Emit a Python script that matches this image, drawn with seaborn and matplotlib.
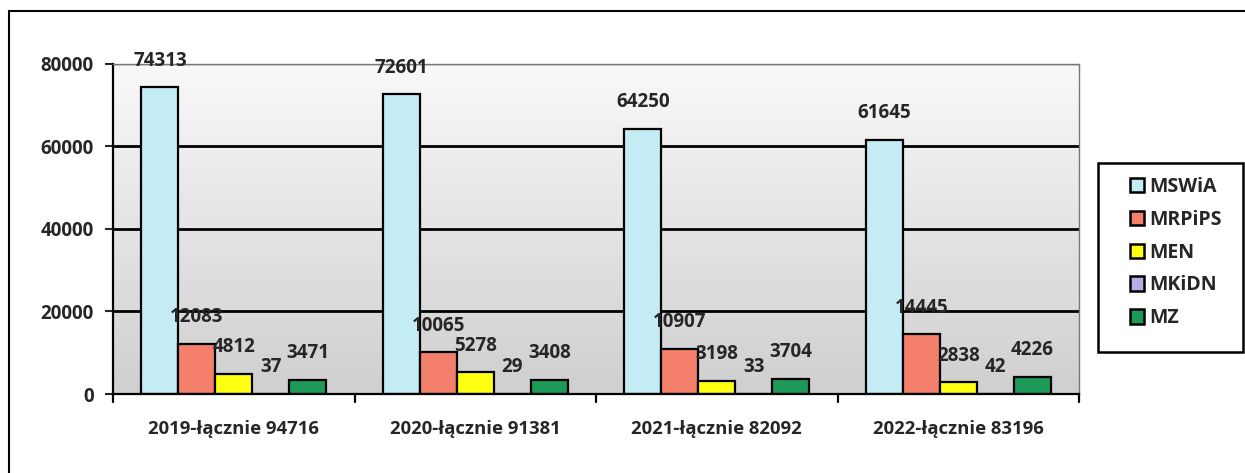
import numpy as np
import pandas as pd
import matplotlib
matplotlib.use("Agg")
import matplotlib.pyplot as plt
from matplotlib.lines import Line2D
from matplotlib.patches import Patch, Rectangle
import seaborn as sns

# dane z wykresu
lata = ['2019-łącznie 94716', '2020-łącznie 91381', '2021-łącznie 82092', '2022-łącznie 83196']
resorty = ['MSWiA', 'MRPiPS', 'MEN', 'MKiDN', 'MZ']
mswia = [74313, 72601, 64250, 61645]
mrpips = [12083, 10065, 10907, 14445]
men = [4812, 5278, 3198, 2838]
mkidn = [37, 29, 33, 42]
mz = [3471, 3408, 3704, 4226]
kolory = ['#c4ecf4', '#f4806c', '#ffff10', '#b4aee4', '#1e9a58']

wartosci = [mswia, mrpips, men, mkidn, mz]
rows = []
for r, vals in zip(resorty, wartosci):
    for rok, v in zip(lata, vals):
        rows.append({'Rok': rok, 'Resort': r, 'Liczba': v})
df = pd.DataFrame(rows)

sns.set_style('white')
plt.rcParams['font.family'] = ['Open Sans', 'DejaVu Sans']
plt.rcParams['font.weight'] = 'bold'

fig = plt.figure(figsize=(12.45, 4.73), dpi=100)
ax = fig.add_axes([0.0908, 0.167, 0.776, 0.698])

# tlo z gradientem
grad = np.linspace(0, 1, 256).reshape(-1, 1)
ax.imshow(grad, aspect='auto', cmap=matplotlib.colors.LinearSegmentedColormap.from_list('g', ['#f9f9f9', '#cfcfcf']),
          extent=[0, 1, 0, 1], transform=ax.transAxes, zorder=0)

sns.barplot(data=df, x='Rok', y='Liczba', hue='Resort', hue_order=resorty, order=lata,
            palette=kolory, width=0.765, gap=0, saturation=1, edgecolor='black', linewidth=1.6,
            ax=ax, legend=False, zorder=3)

for y in [20000, 40000, 60000]:
    ax.axhline(y, color='black', lw=2, zorder=1)
ax.axhline(80000, color='#555555', lw=1, zorder=1)

for cont in ax.containers:
    ax.bar_label(cont, padding=12, fontsize=13.5, fontweight='bold', zorder=5)

ax.set_xlim(-0.5, 3.5)
ax.set_ylim(0, 80000)
ax.set_yticks([0, 20000, 40000, 60000, 80000])
ax.set_yticklabels(['0', '20000', '40000', '60000', '80000'], fontsize=13.5, fontweight='bold')
ax.set_xticks(range(4))
ax.set_xticklabels(lata, fontsize=13.3, fontweight='bold')
ax.tick_params(axis='x', length=0, pad=19)
ax.tick_params(axis='y', length=6, width=1.5, direction='out', left=True, pad=8)
for xb in [-0.5, 0.5, 1.5, 2.5, 3.5]:
    ax.plot([xb, xb], [0, -0.025], transform=ax.get_xaxis_transform(), color='black', lw=1.6, clip_on=False)
ax.set_xlabel('')
ax.set_ylabel('')

for s in ['left', 'bottom']:
    ax.spines[s].set_color('black')
    ax.spines[s].set_linewidth(1.6)
for s in ['right', 'top']:
    ax.spines[s].set_color('#777777')
    ax.spines[s].set_linewidth(1)
for s in ax.spines.values():
    s.set_zorder(4)

# legenda z osobna ramka
W, H = 1245, 473
fig.add_artist(Rectangle((1098 / W, 1 - 352 / H), (1243 - 1098) / W, (352 - 163) / H,
                         transform=fig.transFigure, facecolor='white', edgecolor='black', lw=1.8))
uchwyty = [Patch(facecolor=c, edgecolor='black', linewidth=1.8) for c in kolory]
leg = fig.legend(uchwyty, resorty, loc='upper left', bbox_to_anchor=(1124 / W, 1 - 171 / H),
                 frameon=False, fontsize=14,
                 handlelength=0.75, handleheight=0.75, handletextpad=0.25, labelspacing=0.66,
                 borderpad=0.3, borderaxespad=0)
for t in leg.get_texts():
    t.set_fontweight('bold')

# ramka zewnetrzna
fig.add_artist(Line2D([9 / W, 1], [1 - 11 / H, 1 - 11 / H], color='black', lw=1.5))
fig.add_artist(Line2D([9 / W, 9 / W], [0, 1 - 11 / H], color='black', lw=1.5))

fig.savefig('out.png', dpi=100)
